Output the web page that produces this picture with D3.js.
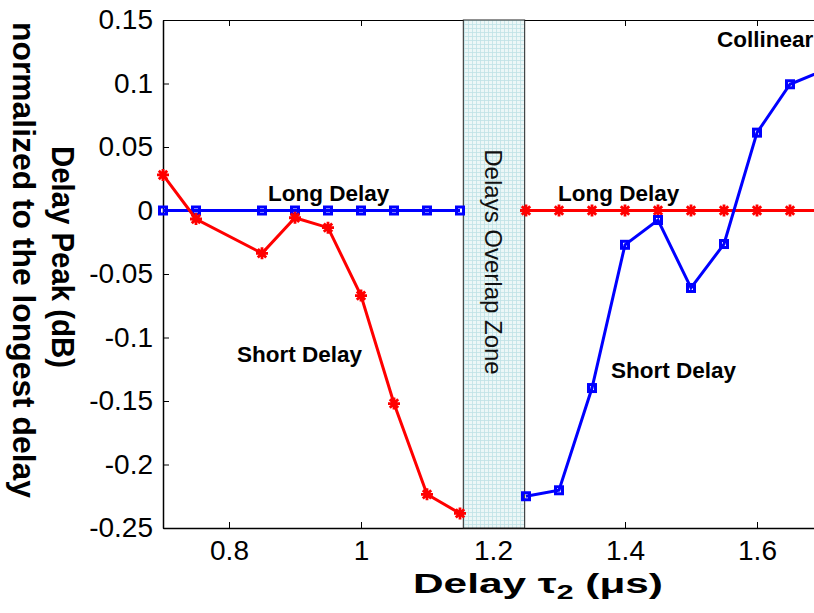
<!DOCTYPE html>
<html>
<head>
<meta charset="utf-8">
<script src="https://cdn.jsdelivr.net/npm/d3@7"></script>
<style>
  body { margin: 0; background: #fff; }
  svg { display: block; font-family: Arial, "Liberation Sans", sans-serif; }
</style>
</head>
<body>
<div id="chart"></div>
<script>
// 左側（τ2 < 重なり帯）のデータ
const leftDelays = [0.7, 0.75, 0.85, 0.9, 0.95, 1.0, 1.05, 1.1, 1.15];
const leftShort = [0.028, -0.0067, -0.0337, -0.0057, -0.0135, -0.067, -0.152, -0.2235, -0.2385];
const leftLong = [0, 0, 0, 0, 0, 0, 0, 0, 0];

// 右側（τ2 > 重なり帯）のデータ
const rightDelays = [1.25, 1.3, 1.35, 1.4, 1.45, 1.5, 1.55, 1.6, 1.65, 1.7];
const rightShort = [-0.225, -0.2203, -0.1398, -0.027, -0.0075, -0.061, -0.0264, 0.0613, 0.0994, 0.11];
const rightLong = [0, 0, 0, 0, 0, 0, 0, 0, 0, 0];

// 重なり帯の範囲
const overlapZone = [1.155, 1.248];

const xTicks = [0.8, 1.0, 1.2, 1.4, 1.6];
const yTicks = [0.15, 0.1, 0.05, 0, -0.05, -0.1, -0.15, -0.2, -0.25];

const W = 814, H = 613;
const pLeft = 163, pTop = 20, pBottom = 528, pRight = 889;

const x = d3.scaleLinear().domain([0.7, 1.8]).range([pLeft, pRight]);
const y = d3.scaleLinear().domain([-0.25, 0.15]).range([pBottom, pTop]);

const svg = d3.select("#chart").append("svg")
  .attr("width", W).attr("height", H);

// 方眼パターン
const defs = svg.append("defs");
const pat = defs.append("pattern")
  .attr("id", "grid").attr("patternUnits", "userSpaceOnUse")
  .attr("width", 4).attr("height", 4);
pat.append("rect").attr("width", 4).attr("height", 4).attr("fill", "#ecf7f7");
pat.append("path").attr("d", "M0,0.5H4M0.5,0V4")
  .attr("stroke", "#bfe2e6").attr("stroke-width", 0.8);

// 軸
const tickLen = 6;
const tickFont = "Arial, 'Liberation Sans', sans-serif";
svg.append("g")
  .attr("transform", `translate(0,${pBottom})`)
  .call(d3.axisBottom(x).tickValues(xTicks).tickSizeInner(-tickLen).tickSizeOuter(0).tickPadding(12)
    .tickFormat(d => String(+d.toFixed(1))))
  .call(g => g.select(".domain").attr("stroke-width", 1.5))
  .call(g => g.selectAll("text").attr("font-size", 28).attr("fill", "#000").attr("font-family", tickFont));

svg.append("g")
  .attr("transform", `translate(0,${pTop})`)
  .call(d3.axisTop(x).tickValues(xTicks).tickSizeInner(-tickLen).tickSizeOuter(0).tickFormat(""))
  .call(g => g.select(".domain").attr("stroke-width", 1.2));

svg.append("g")
  .attr("transform", `translate(${pLeft},0)`)
  .call(d3.axisLeft(y).tickValues(yTicks).tickSizeInner(-tickLen).tickSizeOuter(0).tickPadding(10)
    .tickFormat(d => d === 0 ? "0" : String(+d.toFixed(2))))
  .call(g => g.select(".domain").attr("stroke-width", 1.5))
  .call(g => g.selectAll("text").attr("font-size", 28).attr("fill", "#000").attr("font-family", tickFont));

// 重なり帯
svg.append("rect")
  .attr("x", x(overlapZone[0])).attr("y", pTop)
  .attr("width", x(overlapZone[1]) - x(overlapZone[0]))
  .attr("height", pBottom - pTop)
  .attr("fill", "url(#grid)")
  .attr("stroke", "#222").attr("stroke-width", 1);

svg.append("text")
  .attr("transform", `translate(${(x(overlapZone[0]) + x(overlapZone[1])) / 2},262) rotate(90)`)
  .attr("text-anchor", "middle").attr("dominant-baseline", "central")
  .attr("font-size", 24).attr("fill", "#111")
  .text("Delays Overlap Zone");

// 折れ線と記号
const line = d3.line().x(d => x(d[0])).y(d => y(d[1]));
function zip(a, b) { return a.map((v, i) => [v, b[i]]); }

function drawSquares(pts) {
  svg.append("path").datum(pts).attr("d", line)
    .attr("fill", "none").attr("stroke", "#0000ff").attr("stroke-width", 3);
  svg.append("g").selectAll("rect").data(pts).join("rect")
    .attr("x", d => x(d[0]) - 3.5).attr("y", d => y(d[1]) - 3.5)
    .attr("width", 7).attr("height", 7)
    .attr("fill", "none").attr("stroke", "#0000ff").attr("stroke-width", 3);
}
function drawStars(pts) {
  svg.append("path").datum(pts).attr("d", line)
    .attr("fill", "none").attr("stroke", "#ff0000").attr("stroke-width", 3);
  const r = 6;
  svg.append("g").selectAll("path").data(pts).join("path")
    .attr("d", d => {
      const cx = x(d[0]), cy = y(d[1]), k = r * 0.7;
      return `M${cx - r},${cy}H${cx + r}M${cx},${cy - r}V${cy + r}` +
        `M${cx - k},${cy - k}L${cx + k},${cy + k}M${cx - k},${cy + k}L${cx + k},${cy - k}`;
    })
    .attr("fill", "none").attr("stroke", "#ff0000").attr("stroke-width", 2.8);
}

drawSquares(zip(leftDelays, leftLong));
drawStars(zip(leftDelays, leftShort));
drawStars(zip(rightDelays, rightLong));
drawSquares(zip(rightDelays, rightShort));

// 注記
const notes = [
  { t: "Long Delay", x: 268, y: 201 },
  { t: "Long Delay", x: 558, y: 201 },
  { t: "Short Delay", x: 237, y: 362 },
  { t: "Short Delay", x: 611, y: 378 },
  { t: "Collinear", x: 717, y: 47 }
];
svg.append("g").selectAll("text").data(notes).join("text")
  .attr("x", d => d.x).attr("y", d => d.y)
  .attr("font-size", 22.5).attr("font-weight", "bold")
  .text(d => d.t);

// 軸ラベル
const xl = svg.append("text")
  .attr("x", 413).attr("y", 593)
  .attr("font-size", 28).attr("font-weight", "bold")
  .attr("textLength", 250).attr("lengthAdjust", "spacingAndGlyphs");
xl.append("tspan").text("Delay τ");
xl.append("tspan").attr("font-size", 20).attr("dy", 6).text("2");
xl.append("tspan").attr("dy", -6).text(" (μs)");

svg.append("text")
  .attr("transform", "translate(62,257) rotate(90)")
  .attr("text-anchor", "middle").attr("dominant-baseline", "central")
  .attr("font-size", 31).attr("font-weight", "bold")
  .attr("textLength", 222).attr("lengthAdjust", "spacingAndGlyphs")
  .text("Delay Peak (dB)");
svg.append("text")
  .attr("transform", "translate(23,260) rotate(90)")
  .attr("text-anchor", "middle").attr("dominant-baseline", "central")
  .attr("font-size", 31).attr("font-weight", "bold")
  .attr("textLength", 476).attr("lengthAdjust", "spacingAndGlyphs")
  .text("normalized to the longest delay");
</script>
</body>
</html>
